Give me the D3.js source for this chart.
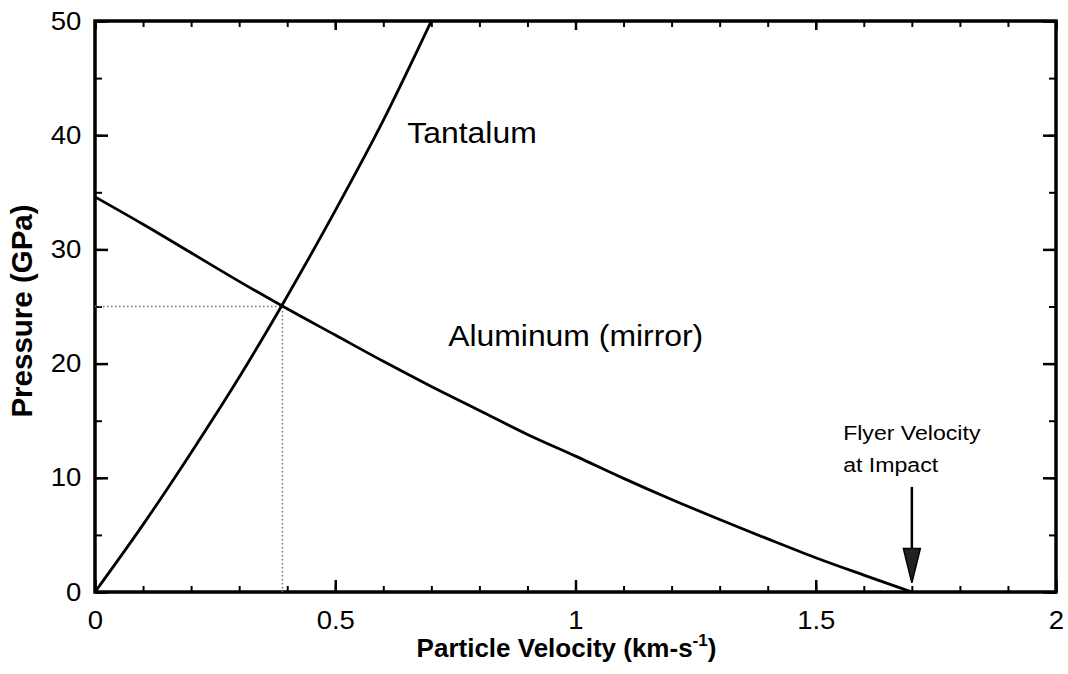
<!DOCTYPE html>
<html>
<head>
<meta charset="utf-8">
<script src="https://cdn.jsdelivr.net/npm/d3@7"></script>
<style>
  html, body { margin: 0; padding: 0; background: #fff; }
  svg { display: block; }
  text { font-family: "Liberation Sans", Arial, sans-serif; fill: #000; }
</style>
</head>
<body>
<svg id="chart" width="1068" height="674"></svg>
<script>
// Shock Hugoniots: tantalum target and reflected aluminum (mirror) curve
const tantalumVelocity = [0, 0.1, 0.2, 0.3, 0.4, 0.5, 0.6, 0.7];
const tantalumPressure = [0, 5.9, 12.2, 18.8, 25.9, 33.4, 41.3, 50.0];

const aluminumVelocity = [0, 0.1, 0.2, 0.3, 0.4, 0.5, 0.6, 0.7, 0.8, 0.9, 1.0, 1.1, 1.2, 1.3, 1.4, 1.5, 1.6, 1.7];
const aluminumPressure = [34.6, 32.2, 29.7, 27.2, 24.8, 22.5, 20.2, 18.0, 15.9, 13.8, 11.9, 9.95, 8.1, 6.35, 4.65, 3.0, 1.48, 0];

// Impedance-match point and flyer velocity
const matchVelocity = 0.39;
const matchPressure = 25;
const flyerVelocity = 1.7;

const xTickLabels = [0, 0.5, 1, 1.5, 2];
const yTickLabels = [0, 10, 20, 30, 40, 50];

const width = 1068, height = 674;
const margin = { top: 21, right: 12, bottom: 82, left: 95 };
const W = width - margin.left - margin.right;
const H = height - margin.top - margin.bottom;
const stretch = "scale(1.1,1)";   // slightly wide lettering

const svg = d3.select("#chart");
const g = svg.append("g").attr("transform", `translate(${margin.left},${margin.top})`);

const x = d3.scaleLinear().domain([0, 2]).range([0, W]);
const y = d3.scaleLinear().domain([0, 50]).range([H, 0]);

const xMinor = d3.range(0, 2.0001, 0.1).map(v => +v.toFixed(1));
const yMinor = d3.range(0, 50.0001, 5);

function styleAxis(sel, width) {
  sel.select(".domain").remove();
  sel.selectAll(".tick line").attr("stroke", "#000").attr("stroke-width", width);
}

// inward ticks on all four sides
g.append("g").attr("transform", `translate(0,${H})`)
  .call(d3.axisBottom(x).tickValues(xMinor).tickSize(-6).tickFormat(""))
  .call(s => styleAxis(s, 2));
g.append("g").attr("transform", `translate(0,${H})`)
  .call(d3.axisBottom(x).tickValues(xTickLabels).tickSize(-12).tickPadding(19).tickFormat(d3.format("")))
  .call(s => styleAxis(s, 2.5))
  .call(s => s.selectAll("text").attr("font-size", 25)
    .attr("font-family", "Liberation Sans, Arial, sans-serif").attr("transform", stretch));
g.append("g")
  .call(d3.axisTop(x).tickValues(xMinor).tickSize(-6).tickFormat(""))
  .call(s => styleAxis(s, 2));
g.append("g")
  .call(d3.axisTop(x).tickValues(xTickLabels).tickSize(-9).tickFormat(""))
  .call(s => styleAxis(s, 2.5));

g.append("g")
  .call(d3.axisLeft(y).tickValues(yMinor).tickSize(-7).tickFormat(""))
  .call(s => styleAxis(s, 2));
g.append("g")
  .call(d3.axisLeft(y).tickValues(yTickLabels).tickSize(-13).tickPadding(12.5).tickFormat(d3.format("")))
  .call(s => styleAxis(s, 2.5))
  .call(s => s.selectAll("text").attr("font-size", 25)
    .attr("font-family", "Liberation Sans, Arial, sans-serif").attr("transform", stretch));
g.append("g").attr("transform", `translate(${W},0)`)
  .call(d3.axisRight(y).tickValues(yMinor).tickSize(-7).tickFormat(""))
  .call(s => styleAxis(s, 2));
g.append("g").attr("transform", `translate(${W},0)`)
  .call(d3.axisRight(y).tickValues(yTickLabels).tickSize(-13).tickFormat(""))
  .call(s => styleAxis(s, 2.5));

// plot frame
g.append("rect")
  .attr("x", 0).attr("y", 0).attr("width", W).attr("height", H)
  .attr("fill", "none").attr("stroke", "#000").attr("stroke-width", 3.5);

// dotted guides to the match point
g.append("path")
  .attr("d", d3.line()([[x(0), y(matchPressure)], [x(matchVelocity), y(matchPressure)], [x(matchVelocity), y(0)]]))
  .attr("fill", "none").attr("stroke", "#777").attr("stroke-width", 1.5)
  .attr("stroke-dasharray", "1.5,2.5");

const line = d3.line().x(d => x(d[0])).y(d => y(d[1])).curve(d3.curveMonotoneX);

g.append("path")
  .datum(tantalumVelocity.map((v, i) => [v, tantalumPressure[i]]))
  .attr("d", line)
  .attr("fill", "none").attr("stroke", "#000").attr("stroke-width", 2.8);

g.append("path")
  .datum(aluminumVelocity.map((v, i) => [v, aluminumPressure[i]]))
  .attr("d", line)
  .attr("fill", "none").attr("stroke", "#000").attr("stroke-width", 2.8);

// text placed at (px, py) with the wide lettering
function label(px, py, size) {
  return g.append("g").attr("transform", `translate(${px},${py}) ${stretch}`)
    .append("text").attr("font-size", size);
}

// curve labels
label(x(0.65), y(39.3), 29).text("Tantalum");
label(x(0.735), y(21.5), 29).text("Aluminum (mirror)");

// flyer velocity arrow
const ax = x(flyerVelocity);
g.append("line")
  .attr("x1", ax).attr("x2", ax).attr("y1", y(9.2)).attr("y2", y(3.8))
  .attr("stroke", "#000").attr("stroke-width", 2.5);
g.append("path")
  .attr("d", `M${ax - 8.5},${y(3.8)} L${ax + 8.5},${y(3.8)} L${ax},${y(0.8)} Z`)
  .attr("fill", "#222").attr("stroke", "#000").attr("stroke-width", 1.5);

const flyer = label(x(1.557), y(13.3), 21);
flyer.append("tspan").attr("x", 0).text("Flyer Velocity");
flyer.append("tspan").attr("x", 0).attr("dy", 32).text("at Impact");

// axis titles
const xt = svg.append("text")
  .attr("x", margin.left + W / 2 - 9).attr("y", 657)
  .attr("text-anchor", "middle").attr("font-size", 26).attr("font-weight", "bold");
xt.append("tspan").text("Particle Velocity (km-s");
xt.append("tspan").attr("font-size", 17).attr("dy", -11).text("-1");
xt.append("tspan").attr("dy", 11).text(")");

svg.append("text")
  .attr("transform", `translate(32,311) rotate(-90)`)
  .attr("text-anchor", "middle").attr("font-size", 29.5).attr("font-weight", "bold")
  .text("Pressure (GPa)");
</script>
</body>
</html>
